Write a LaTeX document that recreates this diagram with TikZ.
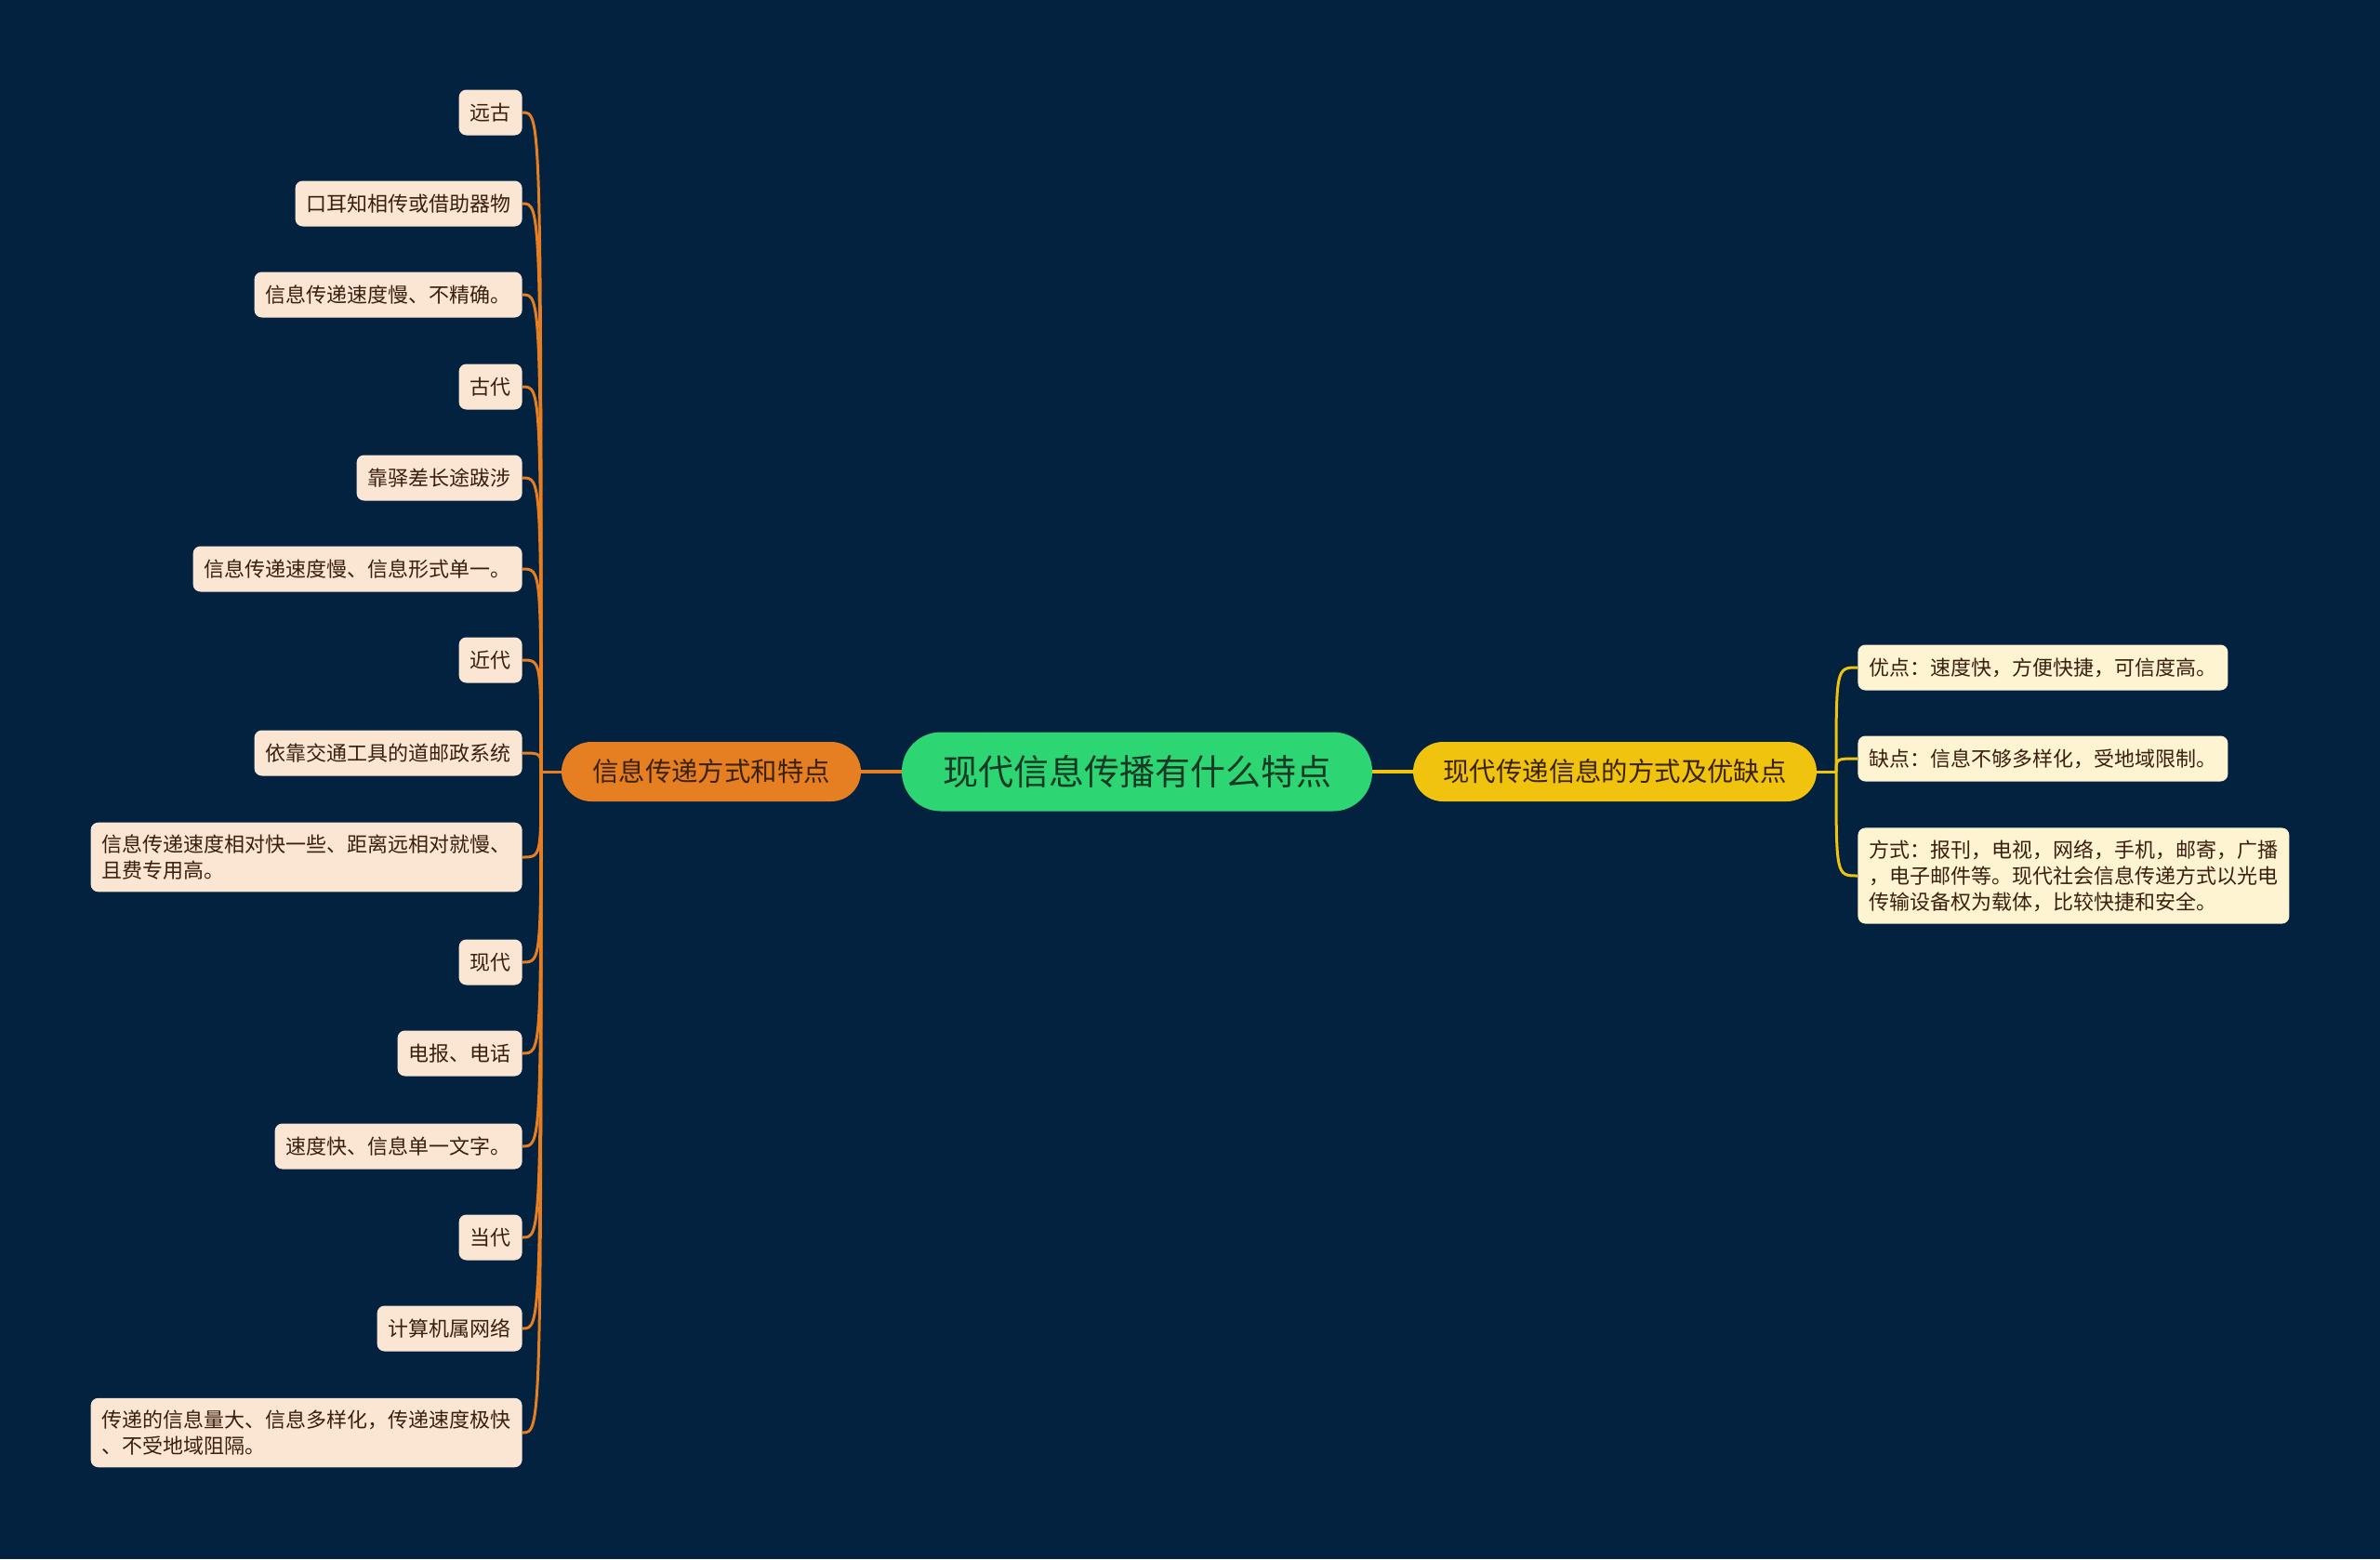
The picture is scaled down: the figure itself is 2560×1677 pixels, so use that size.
\documentclass[tikz,border=0pt]{standalone}
\usepackage{fontspec}
\setmainfont{Noto Sans CJK SC}
\usepackage{xcolor}
\usepackage{tikz}
\usetikzlibrary{positioning,calc}

\definecolor{bgnavy}{HTML}{02223F}
\definecolor{topicgreen}{HTML}{2ED573}
\definecolor{topictext}{HTML}{173A25}
\definecolor{branchorange}{HTML}{E67E22}
\definecolor{branchyellow}{HTML}{F0C30F}
\definecolor{branchtext}{HTML}{3A220C}
\definecolor{leafpeach}{HTML}{FBE6D4}
\definecolor{leafcream}{HTML}{FEF4D2}
\definecolor{leaftext}{HTML}{3B1F0E}

\begin{document}
\begin{tikzpicture}[
        x=0.5pt, y=-0.5pt,
        topic/.style={rectangle, rounded corners=21pt, fill=topicgreen, text=topictext, minimum width=253pt, minimum height=42.5pt, font=\fontsize{19}{23}\selectfont},
        branchl/.style={rectangle, rounded corners=16pt, fill=branchorange, text=branchtext, minimum width=161pt, minimum height=32pt, font=\fontsize{14.2}{17}\selectfont},
        branchr/.style={rectangle, rounded corners=16pt, fill=branchyellow, text=branchtext, minimum width=217pt, minimum height=32pt, font=\fontsize{14.2}{17}\selectfont},
        leafl/.style={rectangle, rounded corners=4pt, fill=leafpeach, text=leaftext, align=left, anchor=east, inner xsep=6pt, inner ysep=6.5pt, minimum height=24.5pt, font=\fontsize{11}{14}\selectfont},
        leafr/.style={rectangle, rounded corners=4pt, fill=leafcream, text=leaftext, align=left, anchor=west, inner xsep=6pt, inner ysep=6.5pt, minimum height=24.5pt, font=\fontsize{11}{14}\selectfont},
        linel/.style={draw=branchorange, line width=1.5pt},
        liner/.style={draw=branchyellow, line width=1.5pt}
    ]
        \fill[bgnavy] (0,0) rectangle (2560,1677);
        \useasboundingbox (0,0) rectangle (2560,1677);

        % main topic and the two branches
        \node[topic] (topic) at (1223,830) {现代信息传播有什么特点};
        \node[branchl] (ways) at (765,830) {信息传递方式和特点};
        \node[branchr] (modern) at (1737,830) {现代传递信息的方式及优缺点};

        \draw[linel, line width=2pt] (topic.west) -- (ways.east);
        \draw[liner, line width=2pt] (topic.east) -- (modern.west);

        % left side
        \coordinate (lj) at (582,830);
        \node[leafl] (l1) at (562,121) {远古};
        \node[leafl] (l2) at (562,219) {口耳知相传或借助器物};
        \node[leafl] (l3) at (562,317) {信息传递速度慢、不精确。};
        \node[leafl] (l4) at (562,416) {古代};
        \node[leafl] (l5) at (562,514) {靠驿差长途跋涉};
        \node[leafl] (l6) at (562,612) {信息传递速度慢、信息形式单一。};
        \node[leafl] (l7) at (562,710) {近代};
        \node[leafl] (l8) at (562,810) {依靠交通工具的道邮政系统};
        \node[leafl] (l9) at (562,922) {信息传递速度相对快一些、距离远相对就慢、\\且费专用高。};
        \node[leafl] (l10) at (562,1035) {现代};
        \node[leafl] (l11) at (562,1133) {电报、电话};
        \node[leafl] (l12) at (562,1233) {速度快、信息单一文字。};
        \node[leafl] (l13) at (562,1331) {当代};
        \node[leafl] (l14) at (562,1429) {计算机属网络};
        \node[leafl] (l15) at (562,1541) {传递的信息量大、信息多样化，传递速度极快\\、不受地域阻隔。};

        \draw[linel] (ways.west) -- (lj);
        \draw[linel] (lj) .. controls (lj |- l1.east) .. (l1.east);
        \draw[linel] (lj) .. controls (lj |- l2.east) .. (l2.east);
        \draw[linel] (lj) .. controls (lj |- l3.east) .. (l3.east);
        \draw[linel] (lj) .. controls (lj |- l4.east) .. (l4.east);
        \draw[linel] (lj) .. controls (lj |- l5.east) .. (l5.east);
        \draw[linel] (lj) .. controls (lj |- l6.east) .. (l6.east);
        \draw[linel] (lj) .. controls (lj |- l7.east) .. (l7.east);
        \draw[linel] (lj) .. controls (lj |- l8.east) .. (l8.east);
        \draw[linel] (lj) .. controls (lj |- l9.east) .. (l9.east);
        \draw[linel] (lj) .. controls (lj |- l10.east) .. (l10.east);
        \draw[linel] (lj) .. controls (lj |- l11.east) .. (l11.east);
        \draw[linel] (lj) .. controls (lj |- l12.east) .. (l12.east);
        \draw[linel] (lj) .. controls (lj |- l13.east) .. (l13.east);
        \draw[linel] (lj) .. controls (lj |- l14.east) .. (l14.east);
        \draw[linel] (lj) .. controls (lj |- l15.east) .. (l15.east);

        % right side
        \coordinate (rj) at (1975,830);
        \node[leafr] (r1) at (1998,718) {优点：速度快，方便快捷，可信度高。};
        \node[leafr] (r2) at (1998,816) {缺点：信息不够多样化，受地域限制。};
        \node[leafr] (r3) at (1998,942) {方式：报刊，电视，网络，手机，邮寄，广播\\，电子邮件等。现代社会信息传递方式以光电\\传输设备权为载体，比较快捷和安全。};

        \draw[liner] (modern.east) -- (rj);
        \draw[liner] (rj) .. controls (rj |- r1.west) .. (r1.west);
        \draw[liner] (rj) .. controls (rj |- r2.west) .. (r2.west);
        \draw[liner] (rj) .. controls (rj |- r3.west) .. (r3.west);
    \end{tikzpicture}
\end{document}
